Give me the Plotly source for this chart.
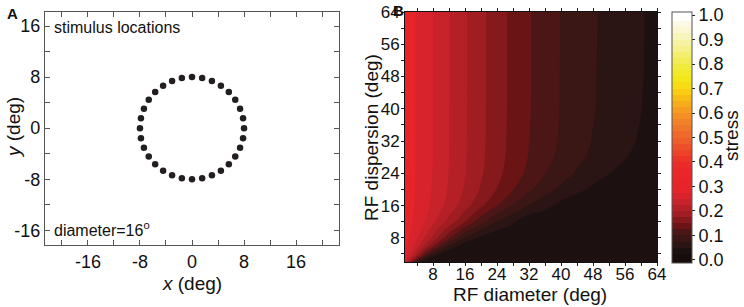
import plotly.graph_objects as go

# ---------------- Panel A: stimulus locations ----------------
stim_x = [8, 7.85, 7.39, 6.65, 5.66, 4.44, 3.06, 1.56, 0, -1.56, -3.06, -4.44, -5.66, -6.65, -7.39, -7.85,
          -8, -7.85, -7.39, -6.65, -5.66, -4.44, -3.06, -1.56, 0, 1.56, 3.06, 4.44, 5.66, 6.65, 7.39, 7.85]
stim_y = [0, 1.56, 3.06, 4.44, 5.66, 6.65, 7.39, 7.85, 8, 7.85, 7.39, 6.65, 5.66, 4.44, 3.06, 1.56,
          0, -1.56, -3.06, -4.44, -5.66, -6.65, -7.39, -7.85, -8, -7.85, -7.39, -6.65, -5.66, -4.44, -3.06, -1.56]
a_tickvals = [-20, -16, -12, -8, -4, 0, 4, 8, 12, 16, 20]
a_ticktext = ["", "-16", "", "-8", "", "0", "", "8", "", "16", ""]

# ---------------- Panel B: stress vs RF diameter / dispersion ----------------
rf_diameter = [0, 1, 2, 3, 4, 6, 8, 10, 12, 16, 20, 24, 28, 32, 36, 40, 44, 48, 52, 56, 60, 64]
rf_dispersion = [2, 3, 4, 6, 8, 12, 16, 20, 24, 28, 32, 40, 48, 64]

stress_d2 = [0.295, 0.251, 0.194, 0.131, 0.0747, 0.030, 0.030, 0.030, 0.030, 0.030, 0.030,
             0.030, 0.030, 0.030, 0.030, 0.030, 0.030, 0.030, 0.030, 0.030, 0.030, 0.030]
stress_d3 = [0.295, 0.267, 0.233, 0.194, 0.152, 0.0748, 0.033, 0.030, 0.030, 0.030, 0.030,
             0.030, 0.030, 0.030, 0.030, 0.030, 0.030, 0.030, 0.030, 0.030, 0.030, 0.030]
stress_d4 = [0.295, 0.2749, 0.251, 0.224, 0.194, 0.131, 0.0747, 0.044, 0.030, 0.030, 0.030,
             0.030, 0.030, 0.030, 0.030, 0.030, 0.030, 0.030, 0.030, 0.030, 0.030, 0.030]
stress_d6 = [0.295, 0.282, 0.267, 0.251, 0.233, 0.194, 0.152, 0.110, 0.0748, 0.033, 0.030,
             0.030, 0.030, 0.030, 0.030, 0.030, 0.030, 0.030, 0.030, 0.030, 0.030, 0.030]
stress_d8 = [0.295, 0.285, 0.2749, 0.263, 0.251, 0.223, 0.194, 0.162, 0.131, 0.0749, 0.044,
             0.030, 0.030, 0.030, 0.030, 0.030, 0.030, 0.030, 0.030, 0.030, 0.030, 0.030]
stress_d12 = [0.295, 0.288, 0.281, 0.274, 0.266, 0.2496, 0.231, 0.212, 0.192, 0.1502, 0.109,
              0.0745, 0.054, 0.033, 0.030, 0.030, 0.030, 0.030, 0.030, 0.030, 0.030, 0.030]
stress_d16 = [0.295, 0.289, 0.283, 0.277, 0.271, 0.258, 0.244, 0.230, 0.215, 0.185, 0.155,
              0.1253, 0.097, 0.073, 0.058, 0.042, 0.030, 0.030, 0.030, 0.030, 0.030, 0.030]
stress_d20 = [0.295, 0.289, 0.284, 0.278, 0.272, 0.260, 0.248, 0.235, 0.222, 0.197, 0.1725,
              0.149, 0.126, 0.104, 0.085, 0.0695, 0.057, 0.0446, 0.032, 0.030, 0.030, 0.030]
stress_d24 = [0.295, 0.2895, 0.284, 0.278, 0.273, 0.261, 0.249, 0.237, 0.224, 0.201, 0.178,
              0.157, 0.137, 0.1185, 0.101, 0.086, 0.0725, 0.062, 0.051, 0.041, 0.030, 0.030]
stress_d28 = [0.295, 0.2895, 0.284, 0.2785, 0.273, 0.261, 0.2498, 0.2374, 0.2251, 0.202, 0.180,
              0.1596, 0.1408, 0.1235, 0.1079, 0.0938, 0.0811, 0.0701, 0.0607, 0.0513, 0.0419, 0.0325]
stress_d32 = [0.295, 0.2895, 0.284, 0.2785, 0.273, 0.2614, 0.2499, 0.2376, 0.2254, 0.2025, 0.1808,
              0.1606, 0.1422, 0.1254, 0.1107, 0.0968, 0.0851, 0.0738, 0.0648, 0.0559, 0.047, 0.0381]
stress_d40 = [0.295, 0.2895, 0.284, 0.2786, 0.273, 0.2615, 0.2499, 0.2378, 0.2256, 0.2028, 0.1814,
              0.1614, 0.1432, 0.1267, 0.1123, 0.0986, 0.0875, 0.0764, 0.0675, 0.059, 0.0504, 0.0419]
stress_d48 = [0.295, 0.2895, 0.284, 0.2786, 0.273, 0.2615, 0.2499, 0.2378, 0.2256, 0.2028, 0.1814,
              0.1615, 0.1434, 0.127, 0.1127, 0.0989, 0.088, 0.077, 0.0682, 0.0598, 0.0514, 0.043]
stress_d64 = [0.295, 0.2895, 0.284, 0.2786, 0.273, 0.2615, 0.2499, 0.2378, 0.2256, 0.2028, 0.1814,
              0.1615, 0.1434, 0.127, 0.1128, 0.0992, 0.0883, 0.0775, 0.0685, 0.0602, 0.0519, 0.0435]

stress = [stress_d2, stress_d3, stress_d4, stress_d6, stress_d8, stress_d12, stress_d16,
          stress_d20, stress_d24, stress_d28, stress_d32, stress_d40, stress_d48, stress_d64]

b_tickvals = [4, 8, 12, 16, 20, 24, 28, 32, 36, 40, 44, 48, 52, 56, 60, 64]
b_ticktext = ["", "8", "", "16", "", "24", "", "32", "", "40", "", "48", "", "56", "", "64"]
cb_tickvals = [0.0, 0.1, 0.2, 0.3, 0.4, 0.5, 0.6, 0.7, 0.8, 0.9, 1.0]
cb_ticktext = ["0.0", "0.1", "0.2", "0.3", "0.4", "0.5", "0.6", "0.7", "0.8", "0.9", "1.0"]

# one colour per 0.025-wide contour band, 0.0 .. 1.0
band_colors = [
    "#170d0d", "#1c1010", "#2a1414", "#3a1614", "#4c1616", "#6a1416", "#86191b", "#a01d22",
    "#b42026", "#c8222b", "#d8232c", "#e8242b", "#e9232a", "#ea2429", "#ea2629", "#eb2b29",
    "#eb3529", "#ec4229", "#ed5029", "#ee5e2a", "#ef6a2a", "#f0762a", "#f18228", "#f38f25",
    "#f59d20", "#f7ad1a", "#f8bd15", "#f9cd12", "#f5dc14", "#f3e619", "#f2e928", "#f2ea3c",
    "#f3ec55", "#f4ee6e", "#f5f088", "#f6f2a2", "#f8f5bb", "#faf7d2", "#fcfae6", "#ffffff",
]
nb = len(band_colors)
colorscale = []
for k, c in enumerate(band_colors):
    colorscale.append([k / nb, c])
    colorscale.append([(k + 1) / nb, c])

FONT = "Liberation Sans, Arial, sans-serif"
W, H = 744, 307

def px(xp):
    return xp / W

def py(yp):
    return 1 - yp / H

fig = go.Figure()

fig.add_trace(go.Scatter(
    x=stim_x, y=stim_y, mode="markers",
    marker=dict(size=6.5, color="#231f20"),
    xaxis="x", yaxis="y", showlegend=False, hoverinfo="skip",
))

fig.add_trace(go.Contour(
    x=rf_diameter, y=rf_dispersion, z=stress,
    xaxis="x2", yaxis="y2",
    colorscale=colorscale,
    autocontour=False,
    contours=dict(start=0, end=1, size=0.025, coloring="fill", showlines=False),
    line=dict(width=0, smoothing=1),
    colorbar=dict(
        x=px(672), xanchor="left", xpad=0,
        y=py(137.5), yanchor="middle", ypad=0,
        len=251 / H, lenmode="fraction",
        thickness=20, thicknessmode="pixels",
        outlinewidth=1, outlinecolor="#555555",
        tickvals=cb_tickvals, ticktext=cb_ticktext,
        ticks="outside", ticklen=3, tickcolor="#222222",
        tickfont=dict(family=FONT, size=18, color="#111111"),
    ),
    hoverinfo="skip",
))

axA = dict(showgrid=False, zeroline=False, showline=True, linecolor="#555555", linewidth=1.2,
           mirror="ticks", ticks="inside", ticklen=5, tickcolor="#555555",
           tickfont=dict(family=FONT, size=18, color="#111111"))
axB = dict(showgrid=False, zeroline=False, showline=True, linecolor="#111111", linewidth=1,
           mirror="ticks", ticks="outside", ticklen=3, tickcolor="#222222",
           tickfont=dict(family=FONT, size=17, color="#111111"))

fig.update_layout(
    width=W, height=H,
    margin=dict(l=0, r=0, t=0, b=0, autoexpand=False),
    paper_bgcolor="white", plot_bgcolor="white",
    font=dict(family=FONT, size=18, color="#111111"),
    showlegend=False,
    xaxis=dict(domain=[px(45), px(339)], range=[-22.6, 22.6], anchor="y",
               tickmode="array", tickvals=a_tickvals, ticktext=a_ticktext, **axA),
    yaxis=dict(domain=[py(245), py(12)], range=[-18.3, 18.2], anchor="x",
               tickmode="array", tickvals=a_tickvals, ticktext=a_ticktext, **axA),
    xaxis2=dict(domain=[px(405), px(657)], range=[1, 64], anchor="y2", ticklabelstandoff=-6,
                tickmode="array", tickvals=b_tickvals, ticktext=b_ticktext, **axB),
    yaxis2=dict(domain=[py(262), py(12)], range=[2, 64], anchor="x2", ticklabelstandoff=-2,
                tickmode="array", tickvals=b_tickvals, ticktext=b_ticktext, **axB),
)

ann = [
    dict(text="<b>A</b>", x=px(5), y=py(3), xanchor="left", yanchor="top", size=15),
    dict(text="<b>B</b>", x=px(391), y=py(0), xanchor="left", yanchor="top", size=15),
    dict(text="stimulus locations", x=px(52), y=py(27), xanchor="left", yanchor="middle", size=16),
    dict(text="diameter=16<sup>o</sup>", x=px(52), y=py(229), xanchor="left", yanchor="middle", size=16),
    dict(text="<i>x</i> (deg)", x=px(192), y=py(283), xanchor="center", yanchor="middle", size=19),
    dict(text="<i>y</i> (deg)", x=px(14), y=py(128), xanchor="center", yanchor="middle", size=19, angle=-90),
    dict(text="RF diameter (deg)", x=px(530), y=py(294), xanchor="center", yanchor="middle", size=19),
    dict(text="RF dispersion (deg)", x=px(371), y=py(138), xanchor="center", yanchor="middle", size=19, angle=-90),
    dict(text="stress", x=px(731), y=py(136), xanchor="center", yanchor="middle", size=19, angle=-90),
]
for a in ann:
    fig.add_annotation(
        text=a["text"], x=a["x"], y=a["y"], xref="paper", yref="paper",
        xanchor=a["xanchor"], yanchor=a["yanchor"], showarrow=False,
        textangle=a.get("angle", 0),
        font=dict(family=FONT, size=a["size"], color="#111111"),
    )

fig.write_html(
    "out.html",
    config={"displayModeBar": False},
    post_script="document.body.style.margin='0';document.body.style.overflow='hidden';",
)
